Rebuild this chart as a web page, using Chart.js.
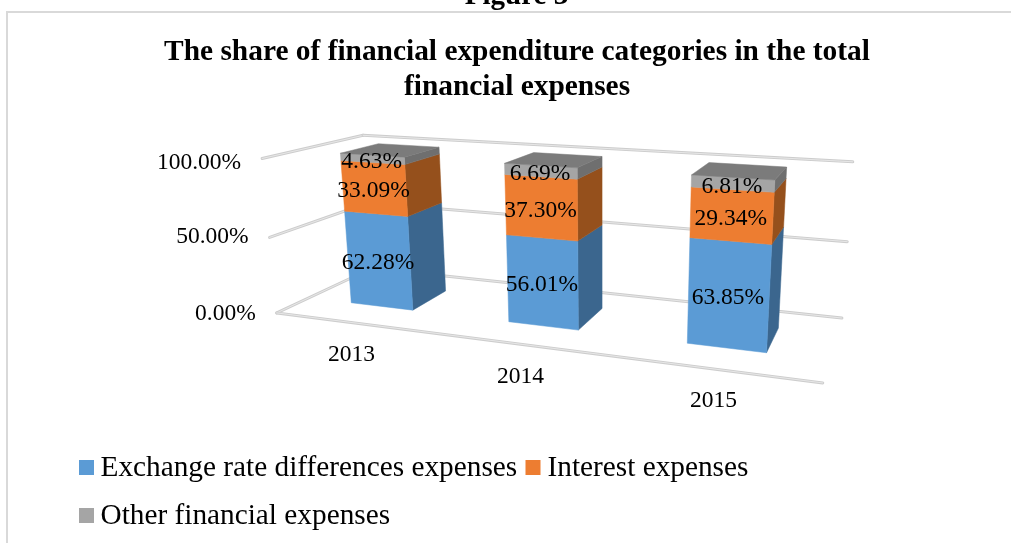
<!DOCTYPE html>
<html><head><meta charset="utf-8">
<style>html,body{margin:0;padding:0;background:#fff}canvas{display:block}</style>
<script src="https://cdn.jsdelivr.net/npm/chart.js@4"></script></head>
<body><canvas id="c" width="1011" height="543"></canvas>
<script>
const categories=['2013','2014','2015'];
const seriesNames=['Exchange rate differences expenses','Interest expenses','Other financial expenses'];
const exchangeValues=[62.28,56.01,63.85];
const interestValues=[33.09,37.30,29.34];
const otherValues=[4.63,6.69,6.81];
const yTicks=[0,50,100];
const seriesColors=['#5B9BD5','#ED7D31','#A5A5A5'];
const sideColors=['#3B668E','#95501C','#6F6F6F'];
const topColor='#7B7B7B';
const FONT='"Liberation Serif"';
// perspective camera of the 3-D box, fitted to the box corners: [u,v,w, picture x, picture y]
const cal=[[0,0,0,275,312.7],[1,0,0,823,382.7],[0,0,1,373.4,268.4],[1,0,1,841.7,318.3],
[0,1,0,263.3,159],[0,1,1,361.7,135],[1,1,1,853.3,161.7],[0,.5,0,270,237.3],[1,.5,1,846.7,241.7]];
function solve(A,b){const n=b.length;for(let i=0;i<n;i++){let p=i;for(let r=i+1;r<n;r++)if(Math.abs(A[r][i])>Math.abs(A[p][i]))p=r;[A[i],A[p]]=[A[p],A[i]];[b[i],b[p]]=[b[p],b[i]];for(let r=i+1;r<n;r++){const f=A[r][i]/A[i][i];for(let c=i;c<n;c++)A[r][c]-=f*A[i][c];b[r]-=f*b[i];}}const x=Array(n);for(let i=n-1;i>=0;i--){let s=b[i];for(let c=i+1;c<n;c++)s-=A[i][c]*x[c];x[i]=s/A[i][i];}return x;}
function fit(){const R=[],Y=[];cal.forEach(([u,v,w,x,y])=>{R.push([u,v,w,1,0,0,0,0,-x*u,-x*v,-x*w]);Y.push(x);R.push([0,0,0,0,u,v,w,1,-y*u,-y*v,-y*w]);Y.push(y);});
const N=Array.from({length:11},(_,i)=>Array.from({length:11},(_,j)=>R.reduce((s,r)=>s+r[i]*r[j],0)));const B=Array.from({length:11},(_,i)=>R.reduce((s,r,k)=>s+r[i]*Y[k],0));return solve(N,B);}
const P=fit();
function proj(u,v,w){const d=P[8]*u+P[9]*v+P[10]*w+1;return [(P[0]*u+P[1]*v+P[2]*w+P[3])/d,(P[4]*u+P[5]*v+P[6]*w+P[7])/d];}
const W0=.307,W1=.707,USHIFT=-.003;
function poly(c,pts,fill){c.beginPath();pts.forEach((p,i)=>i?c.lineTo(p[0],p[1]):c.moveTo(p[0],p[1]));c.closePath();c.fillStyle=fill;c.fill();c.strokeStyle=fill;c.lineWidth=.5;c.stroke();}
function gridline(c,a,b){c.lineCap='round';c.beginPath();c.moveTo(a[0],a[1]);c.lineTo(b[0],b[1]);c.strokeStyle='#CDCDCD';c.lineWidth=3;c.stroke();c.beginPath();c.moveTo(a[0],a[1]);c.lineTo(b[0],b[1]);c.strokeStyle='#EDEDED';c.lineWidth=.8;c.stroke();}
const plugin3d={id:'plugin3d',
beforeDraw(ch){const c=ch.ctx;c.save();c.fillStyle='#fff';c.fillRect(0,0,1011,543);
 c.strokeStyle='#D9D9D9';c.lineWidth=2;c.beginPath();c.moveTo(7,543);c.lineTo(7,12);c.lineTo(1011,12);c.stroke();
 c.fillStyle='#000';c.font='bold 29px '+FONT;c.textAlign='center';c.textBaseline='alphabetic';c.fillText('Figure 3',516.5,4);c.restore();},
beforeDatasetDraw(){return false;},
beforeDatasetsDraw(ch){const c=ch.ctx,a=ch.chartArea,ys=ch.scales.y,xs=ch.scales.x;c.save();
 yTicks.forEach(t=>{const v=(a.bottom-ys.getPixelForValue(t))/a.height;const l=proj(0,v,0),b=proj(0,v,1),r=proj(1,v,1);gridline(c,l,b);gridline(c,b,r);});
 gridline(c,proj(0,0,0),proj(1,0,0));
 c.fillStyle='#000';c.font='23.5px '+FONT;c.textBaseline='middle';c.textAlign='right';
 yTicks.forEach(t=>{const v=(a.bottom-ys.getPixelForValue(t))/a.height;const l=proj(0,v,0);c.fillText(t.toFixed(2)+'%',l[0]-21,l[1]+(t===100?4:t===50?-1:1));});
 c.textAlign='center';
 categories.forEach((n,i)=>{const u=(xs.getPixelForValue(i)-a.left)/a.width;const p=proj(u,0,0);c.fillText(n,p[0]-2,p[1]+32);});
 c.restore();},
afterDatasetsDraw(ch){const c=ch.ctx,a=ch.chartArea;c.save();
 const U=x=>(x-a.left)/a.width+USHIFT,V=y=>(a.bottom-y)/a.height;const labels=[];
 ch.data.datasets.forEach((ds,di)=>{ch.getDatasetMeta(di).data.forEach((b,i)=>{
  const u0=U(b.x-b.width/2),u1=U(b.x+b.width/2),v0=V(b.base),v1=V(b.y);
  const fr=[proj(u0,v0,W0),proj(u1,v0,W0),proj(u1,v1,W0),proj(u0,v1,W0)];
  poly(c,[proj(u1,v0,W0),proj(u1,v0,W1),proj(u1,v1,W1),proj(u1,v1,W0)],sideColors[di]);
  poly(c,fr,seriesColors[di]);
  if(di===ch.data.datasets.length-1)poly(c,[proj(u0,v1,W0),proj(u1,v1,W0),proj(u1,v1,W1),proj(u0,v1,W1)],topColor);
  const cx=(fr[0][0]+fr[1][0]+fr[2][0]+fr[3][0])/4,cy=(fr[0][1]+fr[1][1]+fr[2][1]+fr[3][1])/4;
  labels.push([ds.data[i].toFixed(2)+'%',cx-1,cy+3]);
 });});
 c.fillStyle='#000';c.font='23.5px '+FONT;c.textAlign='center';c.textBaseline='middle';labels.forEach(l=>c.fillText(l[0],l[1],l[2]));
 // legend
 c.font='29.3px '+FONT;c.textAlign='left';c.textBaseline='alphabetic';
 const items=[[79,460,100.5,476],[525.5,460,547.5,476],[79,508,100.5,524]];
 ch.data.datasets.forEach((ds,i)=>{const it=items[i];c.fillStyle=ds.backgroundColor;c.fillRect(it[0],it[1],15,15);c.fillStyle='#000';c.fillText(ds.label,it[2],it[3]);});
 c.restore();}
};
new Chart(document.getElementById('c'),{type:'bar',data:{labels:categories,datasets:[
{label:seriesNames[0],data:exchangeValues,backgroundColor:seriesColors[0]},
{label:seriesNames[1],data:interestValues,backgroundColor:seriesColors[1]},
{label:seriesNames[2],data:otherValues,backgroundColor:seriesColors[2]}]},
plugins:[plugin3d],options:{responsive:false,animation:false,layout:{padding:{left:23}},
datasets:{bar:{barPercentage:.405,categoryPercentage:1}},
plugins:{legend:{display:false},tooltip:{enabled:false},title:{display:true,text:['The share of financial expenditure categories in the total','financial expenses'],color:'#000',font:{family:FONT,size:29.4,weight:'bold',lineHeight:1.195},padding:{top:35,bottom:0}}},
scales:{x:{stacked:true,display:false},y:{stacked:true,display:false,min:0,max:100}}}});
</script></body></html>
